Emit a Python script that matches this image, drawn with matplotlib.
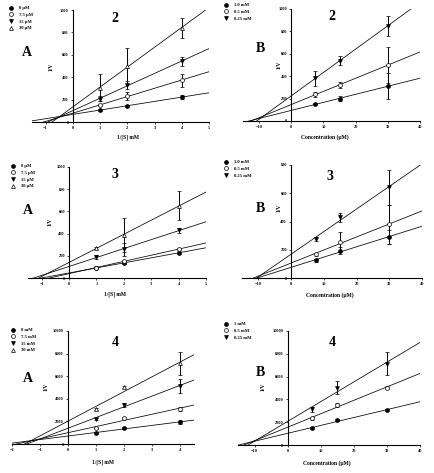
"""Lineweaver-Burk / Dixon style panels (compounds 2, 3, 4)."""

import matplotlib

matplotlib.use("Agg")
import matplotlib.pyplot as plt
import numpy as np
from matplotlib.lines import Line2D

plt.rcParams["font.family"] = ["Liberation Serif", "DejaVu Serif"]
plt.rcParams["font.weight"] = "bold"

W, H = 435, 473

# ---- data ----
inv_s = [1, 2, 4]
conc = [7.5, 15, 30]

labels_2a = ["0 µM", "7.5 µM", "15 µM", "30 µM"]
vals_2a = [[110, 140, 224], [149, 233, 373], [209, 328, 543], [307, 498, 842]]
errs_2a = [[10, 10, 15], [10, 35, 60], [20, 35, 40], [120, 160, 90]]

labels_2b = ["1.0 mM", "0.5 mM", "0.25 mM"]
vals_2b = [[150, 200, 311], [237, 320, 500], [380, 539, 850]]
errs_2b = [[10, 20, 115], [25, 25, 160], [70, 40, 90]]

labels_3a = ["0 µM", "7.5 µM", "15 µM", "30 µM"]
vals_3a = [[91, 136, 227], [94, 151, 260], [190, 257, 429], [272, 387, 650]]
errs_3a = [[10, 10, 15], [10, 10, 10], [20, 55, 20], [10, 150, 130]]

labels_3b = ["1.0 mM", "0.5 mM", "0.25 mM"]
vals_3b = [[125, 192, 291], [168, 255, 379], [274, 430, 641]]
errs_3b = [[10, 25, 50], [10, 70, 135], [15, 30, 125]]

labels_4a = ["0 mM", "7.5 mM", "15 mM", "30 mM"]
vals_4a = [[970, 1410, 1935], [1410, 2290, 3110], [2230, 3460, 5130], [3080, 5015, 7125]]
errs_4a = [[100, 100, 150], [100, 100, 150], [100, 200, 600], [100, 100, 1000]]

labels_4b = ["1 mM", "0.5 mM", "0.25 mM"]
vals_4b = [[1460, 2190, 3060], [2330, 3500, 5040], [3120, 5040, 7140]]
errs_4b = [[100, 100, 100], [100, 200, 100], [200, 600, 1000]]

markers_a = [("o", "k"), ("o", "white"), ("v", "k"), ("^", "white")]
markers_b = [("o", "k"), ("o", "white"), ("v", "k")]

fig = plt.figure(figsize=(W / 100, H / 100), dpi=100)


def px_axes(x0, x1, y_bot, y_top):
    return fig.add_axes([x0 / W, 1 - y_bot / H, (x1 - x0) / W, (y_bot - y_top) / H])


def panel(box, x, vals, errs, labels, markers, xlim, xticks, ylim, yticks,
          xlabel, letter, number, letter_xy, number_xy, xlabel_xy, leg_xy, ylab_xy):
    ax = px_axes(*box)
    ax.set_xlim(*xlim)
    ax.set_ylim(*ylim)
    xs = np.array(x, dtype=float)
    xx = np.array(xlim, dtype=float)
    handles = []
    for v, e, lab, (m, fc) in zip(vals, errs, labels, markers):
        k, b = np.polyfit(xs, v, 1)
        ax.plot(xx, k * xx + b, color="k", lw=0.55)
        ax.errorbar(xs, v, yerr=e, fmt=m, ms=2.8, mfc=fc, mec="k", mew=0.5,
                    ecolor="k", elinewidth=0.7, capsize=1.5, capthick=0.6,
                    color="k")
        handles.append(Line2D([], [], ls="none", marker=m, ms=2.8, mfc=fc,
                              mec="k", mew=0.5, label=lab))
    ax.spines["left"].set_position(("data", 0))
    ax.spines["top"].set_visible(False)
    ax.spines["right"].set_visible(False)
    for s in ("left", "bottom"):
        ax.spines[s].set_linewidth(0.8)
    ax.set_xticks(xticks)
    ax.set_yticks(yticks)
    ax.tick_params(labelsize=3.2, length=1.5, width=0.5, pad=1.5)
    ax.patch.set_alpha(0)
    fig.text(xlabel_xy[0] / W, 1 - xlabel_xy[1] / H, xlabel, fontsize=4,
             ha="center", va="center")
    fig.text(ylab_xy[0] / W, 1 - ylab_xy[1] / H, "1/V", fontsize=4,
             rotation=90, ha="center", va="center")
    fig.text(letter_xy[0] / W, 1 - letter_xy[1] / H, letter, fontsize=10,
             ha="center", va="center")
    fig.text(number_xy[0] / W, 1 - number_xy[1] / H, number, fontsize=10,
             ha="center", va="center")
    ax.legend(handles=handles, loc="upper left",
              bbox_to_anchor=(leg_xy[0] / W, 1 - leg_xy[1] / H),
              bbox_transform=fig.transFigure, frameon=False, fontsize=3.3,
              labelspacing=0.55, handlelength=1.0, handletextpad=1.2,
              borderpad=0, borderaxespad=0)
    return ax


xt_a = [-1, 0, 1, 2, 3, 4, 5]
xt_b = [-10, 0, 10, 20, 30, 40]
s_label = "1/[S] mM"
c_label = "Concentration (µM)"

panel((32, 209, 122, 10), inv_s, vals_2a, errs_2a, labels_2a, markers_a,
      (-1.5, 5), xt_a, (0, 1000), range(0, 1001, 200), s_label, "A", "2",
      (27, 52), (115, 18), (128, 137), (9, 6), (51, 67))
panel((243, 420, 121, 9), conc, vals_2b, errs_2b, labels_2b, markers_b,
      (-15, 40), xt_b, (0, 1000), range(0, 1001, 200), c_label, "B", "2",
      (260, 49), (332, 17), (325, 137), (224, 3), (279, 65))
panel((28, 206, 278, 167), inv_s, vals_3a, errs_3a, labels_3a, markers_a,
      (-1.5, 5), xt_a, (0, 1000), range(0, 1001, 200), s_label, "A", "3",
      (28, 210), (115, 175), (115, 294), (11, 164), (50, 222))
panel((242, 422, 278, 165), conc, vals_3b, errs_3b, labels_3b, markers_b,
      (-15, 40), xt_b, (0, 800), range(0, 801, 200), c_label, "B", "3",
      (260, 208), (330, 176), (330, 295), (224, 160), (279, 208))
panel((12, 194, 444, 331), inv_s, vals_4a, errs_4a, labels_4a, markers_a,
      (-2, 4.5), [-2, -1, 0, 1, 2, 3, 4], (0, 10000), range(0, 10001, 2000),
      s_label, "A", "4", (28, 378), (115, 342), (103, 462), (11, 328), (46, 387))
panel((238, 420, 445, 331), conc, vals_4b, errs_4b, labels_4b, markers_b,
      (-15, 40), xt_b, (0, 10000), range(0, 10001, 2000), c_label, "B", "4",
      (260, 372), (332, 342), (327, 463), (224, 322), (263, 387))

fig.savefig("out.png", dpi=100)
